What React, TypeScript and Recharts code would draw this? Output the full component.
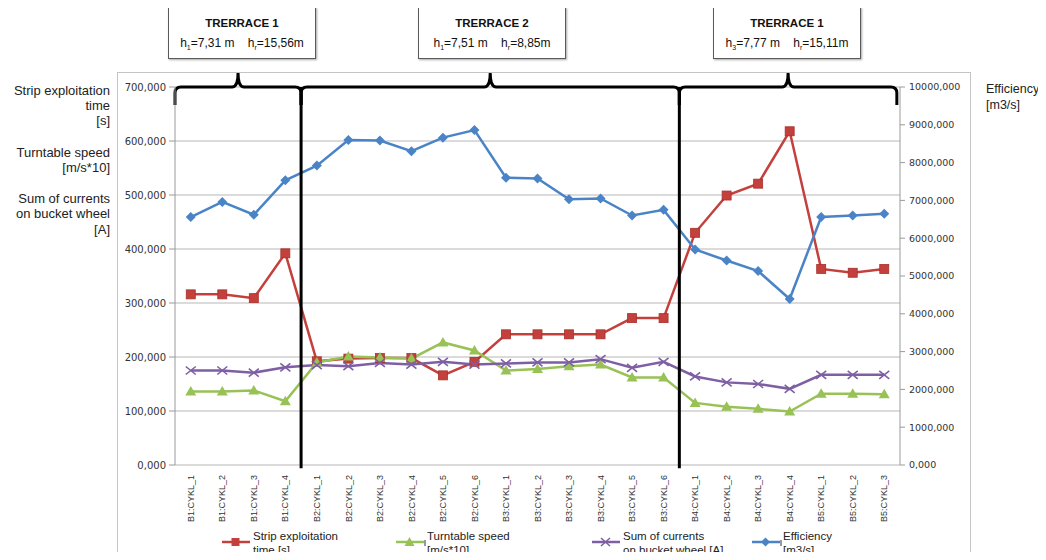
import React from 'react';
import { LineChart, Line, XAxis, YAxis, CartesianGrid, ReferenceLine } from 'recharts';

const categories = [
  'B1:CYKL_1', 'B1:CYKL_2', 'B1:CYKL_3', 'B1:CYKL_4',
  'B2:CYKL_1', 'B2:CYKL_2', 'B2:CYKL_3', 'B2:CYKL_4', 'B2:CYKL_5', 'B2:CYKL_6',
  'B3:CYKL_1', 'B3:CYKL_2', 'B3:CYKL_3', 'B3:CYKL_4', 'B3:CYKL_5', 'B3:CYKL_6',
  'B4:CYKL_1', 'B4:CYKL_2', 'B4:CYKL_3', 'B4:CYKL_4',
  'B5:CYKL_1', 'B5:CYKL_2', 'B5:CYKL_3',
];

const stripTime = [316, 316, 309, 392, 192, 197, 198, 198, 166, 191, 242, 242, 242, 242, 272, 272, 430, 499, 521, 618, 363, 356, 363];
const turntableSpeed = [136, 136, 138, 118, 190, 201, 199, 197, 227, 212, 175, 178, 183, 186, 162, 162, 115, 108, 104, 99, 132, 132, 131];
const currentSum = [175, 175, 171, 181, 185, 183, 189, 186, 191, 186, 188, 190, 190, 196, 180, 191, 164, 153, 150, 141, 167, 167, 167];
const efficiency = [6560, 6960, 6620, 7530, 7920, 8600, 8585, 8300, 8660, 8860, 7600, 7580, 7030, 7050, 6600, 6750, 5700, 5410, 5130, 4390, 6560, 6600, 6650];

const leftTicks = [0, 100, 200, 300, 400, 500, 600, 700];
const rightTicks = [0, 1000, 2000, 3000, 4000, 5000, 6000, 7000, 8000, 9000, 10000];

// terrace sections (category index bounds) and their label boxes
const terraceTitles = ['TRERRACE 1', 'TRERRACE 2', 'TRERRACE 1'];
const terraceSub = ['1', '1', '3'];
const terraceH = ['7,31 m', '7,51 m', '7,77 m'];
const terraceHr = ['15,56m', '8,85m', '15,11m'];
const sectionStart = [-0.5, 3.5, 15.5];
const sectionEnd = [3.5, 15.5, 22.4];
const dividers = [3.5, 15.5];

const data = categories.map((name, i) => ({
  idx: i,
  name,
  strip: stripTime[i],
  speed: turntableSpeed[i],
  current: currentSum[i],
  eff: efficiency[i],
}));

const RED = '#c4403c';
const GREEN = '#98c156';
const PURPLE = '#7e5fa4';
const BLUE = '#4a84c6';

const squareDot = (p: any) => (
  <rect key={`s${p.index}`} x={p.cx - 4.5} y={p.cy - 4.5} width={9} height={9} fill={RED} stroke="#a8302c" strokeWidth={0.8} />
);
const triangleDot = (p: any) => (
  <path key={`t${p.index}`} d={`M${p.cx},${p.cy - 5.5} L${p.cx + 5.5},${p.cy + 4} L${p.cx - 5.5},${p.cy + 4} Z`} fill={GREEN} />
);
const crossDot = (p: any) => (
  <path
    key={`c${p.index}`}
    d={`M${p.cx - 5},${p.cy - 4} L${p.cx + 5},${p.cy + 4} M${p.cx - 5},${p.cy + 4} L${p.cx + 5},${p.cy - 4}`}
    stroke={PURPLE}
    strokeWidth={1.6}
    fill="none"
  />
);
const diamondDot = (p: any) => (
  <path key={`d${p.index}`} d={`M${p.cx},${p.cy - 5} L${p.cx + 5},${p.cy} L${p.cx},${p.cy + 5} L${p.cx - 5},${p.cy} Z`} fill={BLUE} />
);

// curly bracket drawn over a reference segment
const Brace = (props: any) => {
  const { x1, y1, x2 } = props;
  const mid = (x1 + x2) / 2;
  const r = 6;
  const drop = 18;
  const peak = 14;
  const d = `M${x1},${y1 + drop} L${x1},${y1 + r} Q${x1},${y1} ${x1 + r},${y1} L${mid - r},${y1} Q${mid},${y1} ${mid},${y1 - peak} Q${mid},${y1} ${mid + r},${y1} L${x2 - r},${y1} Q${x2},${y1} ${x2},${y1 + r} L${x2},${y1 + drop}`;
  return <path d={d} fill="none" stroke="#000" strokeWidth={3} />;
};

const XTick = (props: any) => {
  const { x, y, payload } = props;
  const label = categories[payload.value];
  if (label === undefined) return null;
  return (
    <text
      x={x}
      y={y}
      dy="0.35em"
      transform={`rotate(-90 ${x} ${y})`}
      textAnchor="end"
      fontSize={9}
      fontFamily="Liberation Sans, Arial, sans-serif"
      fill="#333"
    >
      {label}
    </text>
  );
};

const fmt = (v: number) => `${v},000`;

const labelStyle: React.CSSProperties = {
  position: 'absolute',
  fontSize: 13,
  color: '#222',
};

export default function App() {
  const boxLefts = [160, 410, 705];
  const legend = [
    { color: RED, left: 214, lines: ['Strip exploitation', 'time [s]'], mark: 'square', tick: false },
    { color: GREEN, left: 388, lines: ['Turntable speed', '[m/s*10]'], mark: 'triangle', tick: true },
    { color: PURPLE, left: 584, lines: ['Sum of currents', 'on bucket wheel [A]'], mark: 'cross', tick: false },
    { color: BLUE, left: 744, lines: ['Efficiency', '[m3/s]'], mark: 'diamond', tick: true },
  ];

  return (
    <div
      style={{
        position: 'relative',
        width: 1036,
        height: 552,
        marginBottom: -8,
        overflow: 'hidden',
        fontFamily: 'Liberation Sans, Arial, sans-serif',
        background: '#fff',
      }}
    >
      <div style={{ position: 'absolute', left: 109, top: 64, width: 852, height: 520, border: '1px solid #c4c4c4' }} />

      {terraceTitles.map((t, i) => (
        <div
          key={i}
          style={{
            position: 'absolute',
            left: boxLefts[i],
            top: -1,
            width: 146,
            height: 50,
            border: '1px solid #5a5a5a',
            boxShadow: '1px 1px 2px rgba(0,0,0,0.35)',
            background: '#fff',
            textAlign: 'center',
            color: '#111',
            boxSizing: 'content-box',
          }}
        >
          <div style={{ fontWeight: 'bold', fontSize: 11.5, lineHeight: '14px', marginTop: 8 }}>{t}</div>
          <div style={{ fontSize: 12, lineHeight: '16px', marginTop: 5 }}>
            h<sub style={{ fontSize: 7 }}>{terraceSub[i]}</sub>={terraceH[i]}&nbsp;&nbsp;&nbsp; h<sub style={{ fontSize: 7 }}>r</sub>={terraceHr[i]}
          </div>
        </div>
      ))}

      <div style={{ ...labelStyle, left: 0, width: 102, top: 74.5, lineHeight: '15px', textAlign: 'right' }}>
        Strip exploitation<br />time<br />[s]
      </div>
      <div style={{ ...labelStyle, left: 0, width: 102, top: 136.5, lineHeight: '15px', textAlign: 'right' }}>
        Turntable speed<br />[m/s*10]
      </div>
      <div style={{ ...labelStyle, left: 0, width: 102, top: 182.5, lineHeight: '15.5px', textAlign: 'right' }}>
        Sum of currents<br />on bucket wheel<br />[A]
      </div>
      <div style={{ ...labelStyle, left: 978, top: 72.5, lineHeight: '16px', fontSize: 12.5, whiteSpace: 'nowrap' }}>
        Efficiency<br />[m3/s]
      </div>

      <div style={{ position: 'absolute', left: 0, top: 0 }}>
        <LineChart width={1030} height={544} data={data} margin={{ top: 79, right: 68, bottom: 27, left: 107 }}>
          <CartesianGrid xAxisId="cat" yAxisId="left" vertical={false} stroke="#b8b8b8" strokeWidth={1.2} />
          <XAxis
            xAxisId="edge"
            dataKey="idx"
            type="number"
            domain={[-0.5, 22.5]}
            ticks={categories.map((_, i) => i - 0.5).concat([22.5])}
            interval={0}
            tick={false}
            height={0}
            tickSize={4}
            axisLine={{ stroke: '#9a9a9a', strokeWidth: 1.2 }}
            tickLine={{ stroke: '#9a9a9a' }}
          />
          <XAxis
            xAxisId="cat"
            dataKey="idx"
            type="number"
            domain={[-0.5, 22.5]}
            ticks={categories.map((_, i) => i)}
            interval={0}
            height={60}
            axisLine={false}
            tickLine={false}
            tickSize={4}
            tickMargin={6}
            tick={<XTick />}
          />
          <YAxis
            yAxisId="left"
            domain={[0, 700]}
            ticks={leftTicks}
            interval={0}
            width={60}
            tickFormatter={fmt}
            tickSize={6}
            tickMargin={3}
            axisLine={{ stroke: '#9a9a9a' }}
            tickLine={{ stroke: '#9a9a9a' }}
            tick={{ fontSize: 10, fill: '#333', fontFamily: 'DejaVu Sans, sans-serif' }}
          />
          <YAxis
            yAxisId="right"
            orientation="right"
            domain={[0, 10000]}
            ticks={rightTicks}
            interval={0}
            width={70}
            tickFormatter={fmt}
            tickSize={5}
            tickMargin={4}
            axisLine={{ stroke: '#9a9a9a' }}
            tickLine={{ stroke: '#9a9a9a' }}
            tick={{ fontSize: 9.5, fill: '#333', fontFamily: 'DejaVu Sans, sans-serif', textAnchor: 'start' }}
          />

          <Line xAxisId="cat" yAxisId="left" dataKey="strip" stroke={RED} strokeWidth={2.5} dot={squareDot} isAnimationActive={false} />
          <Line xAxisId="cat" yAxisId="left" dataKey="speed" stroke={GREEN} strokeWidth={2.5} dot={triangleDot} isAnimationActive={false} />
          <Line xAxisId="cat" yAxisId="left" dataKey="current" stroke={PURPLE} strokeWidth={2.5} dot={crossDot} isAnimationActive={false} />
          <Line xAxisId="cat" yAxisId="right" dataKey="eff" stroke={BLUE} strokeWidth={2.5} dot={diamondDot} isAnimationActive={false} />

          {dividers.map((d) => (
            <ReferenceLine
              key={`v${d}`}
              xAxisId="cat"
              yAxisId="left"
              segment={[{ x: d, y: 700 }, { x: d, y: -6 }]}
              stroke="#000"
              strokeWidth={3}
              ifOverflow="visible"
            />
          ))}
          {sectionStart.map((s, i) => (
            <ReferenceLine
              key={`b${i}`}
              xAxisId="cat"
              yAxisId="left"
              segment={[{ x: s, y: 700 }, { x: sectionEnd[i], y: 700 }]}
              shape={Brace}
              ifOverflow="visible"
            />
          ))}
        </LineChart>
      </div>

      {legend.map((item, i) => (
        <div key={i} style={{ position: 'absolute', left: item.left, top: 522, height: 28 }}>
          <svg width={30} height={22} style={{ position: 'absolute', left: 0, top: 1 }}>
            <line x1={0} y1={11} x2={28} y2={11} stroke={item.color} strokeWidth={2.5} />
            {item.mark === 'square' && <rect x={9.5} y={7} width={8} height={8} fill={item.color} />}
            {item.mark === 'triangle' && <path d="M13.5,6 L18.5,15 L8.5,15 Z" fill={item.color} />}
            {item.mark === 'cross' && <path d="M9,7 L18,15 M9,15 L18,7" stroke={item.color} strokeWidth={1.5} />}
            {item.mark === 'diamond' && <path d="M13.5,6.5 L18,11 L13.5,15.5 L9,11 Z" fill={item.color} />}
            {item.tick && <line x1={29} y1={9} x2={29} y2={15} stroke="#333" strokeWidth={1} />}
          </svg>
          <div style={{ position: 'absolute', left: 31, top: 0, fontSize: 11.5, lineHeight: '13.5px', whiteSpace: 'nowrap', color: '#222' }}>
            {item.lines[0]}
            <br />
            {item.lines[1]}
          </div>
        </div>
      ))}
    </div>
  );
}
